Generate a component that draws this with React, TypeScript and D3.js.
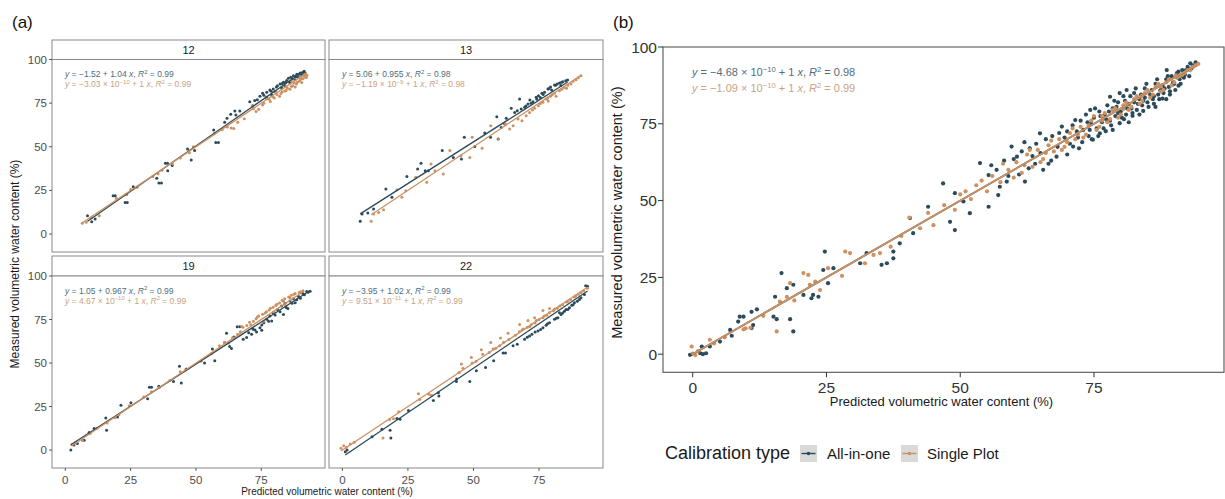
import React from 'react';
import * as d3 from 'd3';

type P = [number, number];

// ---------------- DATA ----------------
const facetIds = ['12', '13', '19', '22'];
const seriesNames = ['All-in-one', 'Single Plot'];
const yTicks = [0, 25, 50, 75, 100];
const xTicks = [0, 25, 50, 75];

const f12Blue: P[] = [
  [8.5, 10.5], [10.1, 7.1], [11.4, 8.6], [18.3, 22], [19.1, 22], [22.9, 18.1], [23.7, 18.1], [26, 27.1],
  [35, 31.9], [35.8, 29.2], [36.8, 29.2], [38.3, 40.5], [39.1, 40.5], [39.2, 36.3], [40.9, 39.2],
  [46.8, 48.7], [48.2, 42.4], [49.5, 47.8], [56.8, 59.6], [57.6, 52.5], [58.6, 52.5], [61, 64],
  [61.9, 66.3], [63.3, 68.6], [64.9, 70.5], [65.3, 68.2], [66.8, 70.5], [70.6, 75.8], [71.7, 73.5],
  [73.5, 77], [74.5, 78.9], [75.5, 80.6], [77.1, 81.2], [78.3, 82.5], [79.6, 83.1], [81.2, 85],
  [82.2, 86], [83.5, 86.9], [84.7, 87.9], [85.4, 89.2], [86.3, 89.8], [87.3, 90.7], [88.6, 91.5],
  [89.9, 92.3], [90.9, 92.6], [84, 85], [86, 86.5], [87.9, 88.4], [89.2, 89.8], [90.5, 91.1],
  [79, 79.7], [77, 78.4], [80.3, 81.7], [82.8, 83.6], [85.8, 87.2], [88.2, 90.1], [91.4, 93.2],
  [72.5, 76.5], [76, 79.5], [78.8, 81.8], [80.8, 84.2], [83, 86.2], [84.2, 86.8], [86.8, 88.9],
  [88.1, 90.2], [89.5, 91.6], [91.6, 92.5]
];
const f12Orange: P[] = [
  [6.5, 6.2], [8, 6.8], [10, 9.3], [13, 10.5], [19.5, 20.5], [23.5, 22.5], [25, 25.5], [27.5, 26.8],
  [33.5, 33], [35.5, 34.5], [37, 36.5], [41, 40.2], [44, 43.5], [47.5, 46.5], [49, 50], [57, 57.5],
  [60, 59.8], [62, 61.3], [63.5, 60.8], [64.5, 60.5], [66, 64], [68.5, 66], [72, 71.8], [74, 71.5],
  [75.5, 74], [77, 77.5], [78.5, 76], [79.5, 78.5], [81, 80], [82, 79], [83, 81.5], [84, 82],
  [85, 83.5], [86, 83], [87, 85], [87.5, 86.5], [88.5, 86], [89.5, 87.5], [90, 88.5], [91, 89],
  [91.5, 90.5], [92, 91.5], [86.5, 87.8], [84.5, 84.6], [80.5, 81.5], [73, 70.2], [71.5, 73],
  [88, 84.3], [90.5, 86.8], [92.3, 89.7], [76, 75], [78, 77.2], [80, 78], [82.5, 80.5], [84.5, 82.3],
  [86.5, 84.5], [88.7, 87], [90.3, 89.2], [91.8, 90], [92.5, 91]
];

const f13Blue: P[] = [
  [6.8, 7.3], [7.5, 11.5], [9.7, 12], [11.9, 14.3], [16.6, 25.8], [18.9, 21], [24.6, 33], [28.7, 37.2],
  [30, 40.5], [31.6, 36.3], [32.8, 36.3], [38.1, 47.8], [42.3, 43.9], [45.4, 43], [46.5, 55.4],
  [50.5, 50.2], [54.3, 57.9], [56.5, 55.4], [58.9, 67.2], [59.4, 54.4], [60.6, 61.1], [61.9, 63],
  [62.5, 66.3], [64.4, 72], [65.7, 69.7], [66.7, 70.7], [68.2, 71.6], [69.5, 72.6], [70.8, 74.5],
  [72.7, 75.8], [73.9, 78.3], [74.8, 79.3], [76.1, 80.6], [77.1, 81.2], [78.4, 83.1], [79.4, 84.2],
  [80.9, 85.4], [81.9, 86], [82.8, 86.5], [84.1, 87.3], [85.9, 88.3], [67.6, 77.4], [71.5, 76.8],
  [75.5, 78.2], [79.8, 82.5], [83.3, 85.1], [70, 73.4], [72, 75], [74.2, 77.2], [76.6, 80],
  [78.8, 83.4], [81.3, 85.2], [83.6, 86.9], [85.2, 87.8]
];
const f13Orange: P[] = [
  [11, 7.3], [11.9, 11.5], [13.8, 12.4], [15.7, 13.9], [20.8, 25.4], [22.7, 21], [24.2, 24.8],
  [28, 32.5], [32.2, 29.6], [33.8, 40.1], [35.3, 36.3], [38.5, 34.4], [41, 47.8], [45.2, 44.9],
  [48.6, 43.9], [49.5, 55.4], [53.3, 49.1], [56.6, 62.1], [59.6, 54.4], [62.2, 63], [63.8, 60.2],
  [65.1, 62.1], [67, 65.9], [68.5, 64.9], [70.1, 67.8], [71.4, 69.7], [73.3, 72], [74.8, 73.5],
  [76.5, 75.5], [77.7, 77.4], [79.4, 78.9], [80.9, 80.6], [82.8, 82.1], [84.7, 84], [87.2, 86],
  [89.1, 88.4], [91, 90.7], [81.5, 79], [85.5, 83.5], [78.5, 76.2], [72.5, 71], [75.5, 74.8],
  [78.3, 77.9], [80, 79.8], [83.7, 83], [86, 85.3], [88, 87.5], [90, 89.6]
];

const f19Blue: P[] = [
  [2.1, 0], [3.3, 2.9], [4.6, 3.8], [7.2, 5.7], [9.1, 10.1], [11, 12.4], [15.5, 18.4], [15.8, 11.4],
  [20, 19], [21.3, 25.7], [25.1, 27.2], [31.5, 29.5], [32.2, 36.1], [33, 36.1], [35.8, 36.7],
  [41.4, 39.4], [43.7, 48.1], [44.4, 38.6], [46.3, 46.6], [53.3, 50], [56.3, 58], [57.2, 51.3],
  [61, 61.8], [61.7, 67.1], [62.9, 59.5], [63.6, 58.3], [64.5, 65], [65.8, 70.9], [66.8, 70.9],
  [68.1, 63.7], [69.4, 64.6], [71.3, 66.5], [71.9, 69.4], [73.2, 67.9], [74.5, 70.3], [76, 73.2],
  [77.1, 75.1], [78.3, 77], [79.6, 78.9], [81.2, 80.8], [82.8, 82.7], [84.1, 84.2], [86, 85.6],
  [87.3, 86.9], [89.2, 88.4], [90.9, 89.9], [92.4, 91.1], [93.7, 91.3], [79, 74.1], [83.5, 77.9],
  [85.2, 81.3], [88, 84.6], [90, 87.2], [75.2, 68.8], [70.2, 67.4], [72.6, 69], [75.2, 71.9],
  [77.8, 74], [80.3, 77.6], [82.2, 79.5], [84.6, 81.9], [86.8, 84.3], [88.6, 86.3], [91.5, 89.2],
  [92.9, 90.6]
];
const f19Orange: P[] = [
  [2.5, 3], [4, 4.5], [6.5, 5.5], [9.5, 9.5], [12, 12.5], [16, 15.5], [19, 18.5], [20.5, 20.3],
  [24.5, 25.5], [30, 30.5], [33, 33.5], [36, 36], [40, 40], [44, 45], [46, 46], [52, 51],
  [56, 55.5], [59, 60], [61, 62], [62.5, 61.5], [64, 64.5], [66, 66.5], [67, 68], [68, 70.5],
  [69.5, 71.5], [71, 72], [72, 74], [73, 75.5], [74, 77], [75.5, 78], [77, 79.5], [78, 80.5],
  [79.5, 82], [80.5, 83], [82, 84.5], [83, 86], [84, 87], [85.5, 88], [86.5, 89], [88, 90],
  [89.5, 90.5], [91, 91.5], [76, 74], [80, 79], [84, 83.5], [67.5, 71], [70.5, 73.5], [73.5, 76.5],
  [76.5, 78.8], [78.5, 81.5], [81, 83.8], [83.5, 85.5], [86, 87.5], [87.5, 89.5], [90, 91]
];

const f22Blue: P[] = [
  [1.1, -1], [1.8, 0], [11.3, 7.6], [15.1, 12], [18.2, 11.4], [18.5, 7], [20.8, 18.1], [22, 17.7],
  [25.2, 22.8], [34.7, 28.5], [36.6, 32.9], [36.8, 31], [43.5, 39.4], [43.6, 40.8], [48.6, 39.4],
  [51.1, 45.6], [54.6, 47.5], [57.7, 51.3], [61.3, 55.7], [62.2, 55.7], [65.1, 59.9], [66.7, 60.8],
  [69.5, 63.7], [71.4, 65.6], [72.3, 66.5], [74.6, 68.4], [76.5, 70.3], [77.7, 71.7], [79, 73.2],
  [80.9, 75.1], [82.2, 76], [83.4, 77.9], [84.7, 79.8], [86.6, 81.7], [88.5, 84.6], [90.4, 86.5],
  [92.3, 89.4], [93.5, 94.1], [92.8, 94.4], [82.8, 78.9], [85.3, 80.8], [87.5, 83.2], [89.6, 85.5],
  [70.5, 64.8], [73.5, 67.8], [75.6, 69.2], [78.2, 72.5], [81.6, 75.8], [84, 78.8], [86, 80.8],
  [88, 83.5], [91, 87.5]
];
const f22Orange: P[] = [
  [-0.5, 1], [0.5, 2.5], [1.5, 1.5], [3, 3.5], [4.5, 4.5], [15.5, 7], [18, 17.5], [19.5, 18],
  [21.5, 22], [29.5, 29], [29, 32.3], [33, 32], [34, 31.5], [44.5, 44.5], [45.4, 49.4], [46, 47],
  [49.2, 53.2], [49.5, 50], [51, 51], [53, 57.6], [53.5, 55], [56, 56], [56.6, 61.8], [57.5, 58],
  [58.5, 58.5], [60, 60], [60.3, 64.4], [61.5, 62], [63.2, 67.1], [63.5, 63.5], [66, 66],
  [67.5, 68], [67.6, 72.2], [69, 69.5], [70.5, 70.5], [70.8, 74.5], [72, 72], [73.3, 76],
  [73.5, 73], [75, 75], [76.5, 76], [76.5, 80.2], [78, 77.5], [79, 79], [79, 81.4], [80.5, 80],
  [82, 81.5], [84, 83.5], [85.5, 85], [87, 86.5], [88.5, 88], [90, 89.5], [92, 91.5], [93.5, 93],
  [68.5, 69], [71.5, 71], [74, 74.5], [77, 77], [81, 81], [83, 82.8], [86, 85.5], [89, 88.7], [91, 90.5]
];

const bBlue: P[] = [
  [-0.5, -0.2], [1.4, 0.3], [1.7, 2.5], [1.9, 0], [2.5, 0.3], [3.2, 2.5], [5.1, 4.1], [7, 7.9],
  [7.3, 6], [8.5, 10.6], [8.8, 12.2], [9.5, 12.2], [11, 8.5], [11.3, 9.5], [11, 13.8], [12, 14.6],
  [15.4, 18.7], [15.1, 12.2], [15.7, 11.4], [16.6, 26.4], [17.6, 21.5], [18.8, 22.6], [18.2, 11.4],
  [18.8, 7.4], [20.7, 19.3], [22.2, 18.2], [22.5, 19.3], [23.5, 18.7], [24.7, 33.4], [24.4, 27.4],
  [25.3, 23.1], [26.3, 28], [31.3, 29.6], [32.5, 32.9], [35.3, 29.1], [37.5, 31.2], [37.5, 33.4],
  [36.3, 29.6], [38.7, 36.1], [40.6, 44.3], [41.2, 39.4], [44, 48], [46.8, 55.6], [49, 52.4],
  [49, 40.4], [48.1, 43.1], [50.6, 49.7], [51.8, 45.9], [53.7, 62.2], [55.3, 58.3], [55.3, 48],
  [56.8, 60], [57.4, 54.5], [57.1, 51.8], [58.7, 56.2], [59.6, 67.6], [60.6, 64.3], [62.1, 56.2],
  [64.9, 71.9], [65.5, 60], [68, 64.3], [69, 74.1], [71.1, 67.6], [71.5, 76.2], [74.3, 79.5],
  [76.1, 71.9], [78, 83.8], [81.1, 86], [88.6, 92.5], [93, 94.7], [70, 72.5], [71, 74.5],
  [72, 70.5], [72.5, 76], [73, 73], [73.5, 78], [74, 71], [74.5, 75], [75, 77], [75.5, 73.5],
  [76, 79], [76.5, 75.5], [77, 78], [77.5, 81], [78, 76], [78.5, 80], [79, 77.5], [79.5, 82],
  [80, 79], [80.5, 84], [81, 78], [81.5, 81.5], [82, 80], [82.5, 85], [83, 79.5], [83.5, 83],
  [84, 81], [84.5, 86.5], [85, 82], [85.5, 84.5], [86, 83], [86.5, 88], [87, 84.5], [87.5, 86],
  [88, 85], [88.5, 89.5], [89, 87], [89.5, 90.5], [90, 88], [90.5, 91.5], [91, 89.5], [91.5, 92.5],
  [92, 91], [92.5, 93.5], [93.5, 94], [62, 69], [63, 67], [64, 62], [66, 70], [67, 63], [68.5, 72],
  [70, 65], [60, 63.5], [61, 58.5], [63.5, 64.5], [84.2, 79.2], [86.2, 81.5], [87.8, 83.2],
  [89.2, 85.6], [90.8, 87.4], [79.8, 75.2], [82.2, 77.6], [74.8, 69.8], [77.2, 72.6],
  [55.8, 61.5], [58.2, 63], [59, 58], [61.5, 66], [62.8, 60.5], [64.2, 68.5], [65, 65.5], [66.5, 62],
  [67.2, 71], [68.2, 67.5], [69.5, 70.5], [70.5, 68.5], [71.8, 72.5], [72.8, 69], [73.8, 75.5],
  [74.2, 73], [75.2, 80], [76.2, 77.5], [76.8, 73.5], [77.8, 79], [78.2, 74.5], [78.8, 82.5],
  [79.2, 80.5], [79.8, 85], [80.2, 77], [80.8, 82.5], [81.2, 80], [81.8, 84], [82.2, 78.5],
  [82.8, 86.5], [83.2, 81.5], [83.8, 84.5], [84.2, 82.5], [84.8, 88], [85.2, 80.5], [85.8, 86],
  [86.2, 84], [86.8, 89.5], [87.2, 83], [87.8, 87.5], [88.2, 86.5], [88.8, 90.5], [89.2, 84.5],
  [89.8, 88.5], [90.2, 86], [90.8, 92], [91.2, 88], [91.8, 90], [92.2, 92.5], [92.8, 90.5],
  [93.2, 93], [94, 95], [75.8, 71], [78.5, 73], [81.5, 75.5], [83.5, 78], [86.5, 80.5], [88.5, 83],
  [72.2, 67], [74.6, 70], [80.6, 76.5], [77.3, 76.4], [79.5, 78.5], [82.5, 82], [84.5, 83.5],
  [87.4, 85.8], [89.7, 87.8], [91.4, 90.6]
];
const bOrange: P[] = [
  [-0.2, 2.5], [0, 0.2], [0.5, -0.3], [1, 1], [3.2, 4.7], [4, 3.5], [6, 5.5], [9.5, 8.1],
  [9.9, 8.4], [10.8, 8.6], [13.2, 12.5], [15.7, 7.4], [16.3, 17.1], [17.6, 18.7], [18.2, 23.1],
  [19, 17.5], [20.7, 26.4], [21.6, 25.8], [21.9, 22.6], [22.9, 23.6], [23.8, 20.9], [25.3, 28],
  [27.9, 25.5], [28.5, 33.4], [29.4, 32.9], [32.2, 29.6], [33.8, 32.3], [35, 32.9], [37, 35],
  [39, 38.5], [40.5, 44.5], [42.5, 41], [44, 46], [45, 42], [47, 48.5], [49, 47], [50, 52],
  [52, 50.5], [53, 55], [55, 53], [56, 58], [57.5, 56], [59, 60], [60.5, 62.5], [61.5, 59],
  [62.5, 65], [63.5, 61], [64.5, 66.5], [65.5, 63.5], [66.5, 68], [67.5, 66], [68.5, 70],
  [69.5, 67.5], [70.5, 72], [71.5, 70], [72.5, 74], [73.5, 71.5], [74.5, 76], [75.5, 73],
  [76.5, 77.5], [77.5, 75.5], [78.5, 79.5], [79.5, 77], [80.5, 81], [81.5, 79.5], [82.5, 83],
  [83.5, 81.5], [84.5, 85], [85.5, 83.5], [86.5, 87], [87.5, 85.5], [88.5, 88.5], [89.5, 87.5],
  [90.5, 90], [91.5, 91], [92.5, 92.5], [93.5, 93.5], [94.5, 94.5],
  [58, 62], [60, 57.5], [63, 66.5], [65, 62.5], [67, 69.5], [69, 66.5], [71, 73.5], [73, 70.5],
  [74, 74.5], [75, 77.5], [76, 74], [77, 78.5], [78, 76.5], [79, 80], [80, 78], [81, 82],
  [82, 80.5], [83, 84], [84, 82.5], [85, 86], [86, 84.5], [87, 88], [88, 86], [89, 89.5],
  [90, 88.5], [91, 90.5], [92, 91.5], [93, 92.5], [94, 94], [70, 69], [72, 71.5], [76.5, 76],
  [80.5, 79.8], [84, 84.2], [87.5, 87.2], [90.3, 90.8], [66, 65.5], [62, 61.5], [54, 56.5], [51, 53]
];

const facetBlue = [f12Blue, f13Blue, f19Blue, f22Blue];
const facetOrange = [f12Orange, f13Orange, f19Orange, f22Orange];
const facetFitA = [[-1.52, -3.03e-10], [5.06, -1.19e-9], [1.05, 4.67e-10], [-3.95, 9.51e-11]];
const facetFitB = [[1.04, 1], [0.955, 1], [0.967, 1], [1.02, 1]];
// [intercept, exponent, slope, R2]
const facetEqBlue: (string | null)[][] = [
  ['−1.52', null, '1.04', '0.99'], ['5.06', null, '0.955', '0.98'],
  ['1.05', null, '0.967', '0.99'], ['−3.95', null, '1.02', '0.99']
];
const facetEqOrange: (string | null)[][] = [
  ['−3.03', '−10', '1', '0.99'], ['−1.19', '−9', '1', '0.98'],
  ['4.67', '−10', '1', '0.99'], ['9.51', '−11', '1', '0.99']
];
const bFitA = [-4.68e-10, -1.09e-10];
const bFitB = [1, 1];
const bEqBlue: (string | null)[] = ['−4.68', '−10', '1', '0.98'];
const bEqOrange: (string | null)[] = ['−1.09', '−10', '1', '0.99'];

// ---------------- STYLE ----------------
const FONT = "'Liberation Sans', Arial, Helvetica, sans-serif";
const BLUE = '#2b4b5a';
const ORANGE = '#cd9162';
const BLUE_TXT = '#4f6d7b';
const ORANGE_TXT = '#c9a37f';
const colX: [number, number][] = [[52, 325], [329, 603]];
const rowY = [
  { strip: [40, 59.5], panel: [59.5, 252] },
  { strip: [256, 276], panel: [276, 468] }
];

type Part = { t: string; i?: boolean; sup?: boolean };
function eqParts(e: (string | null)[]): Part[] {
  const [a, ex, b, r2] = e;
  const parts: Part[] = [{ t: 'y', i: true }, { t: ' = ' + a }];
  if (ex) { parts.push({ t: ' × 10' }); parts.push({ t: ex, sup: true }); }
  parts.push({ t: ' + ' + b + ' ' });
  parts.push({ t: 'x', i: true });
  parts.push({ t: ', ' });
  parts.push({ t: 'R', i: true });
  parts.push({ t: '2', sup: true });
  parts.push({ t: ' = ' + r2 });
  return parts;
}

function Eq({ x, y, e, fill, size }: { x: number; y: number; e: (string | null)[]; fill: string; size: number }) {
  const parts = eqParts(e);
  let raised = false;
  return (
    <text x={x} y={y} fill={fill} fontSize={size} fontFamily={FONT}>
      {parts.map((p, k) => {
        let dy = 0;
        if (p.sup && !raised) { dy = -size * 0.4; raised = true; }
        else if (!p.sup && raised) { dy = size * 0.4; raised = false; }
        return (
          <tspan key={k} dy={dy || undefined} fontStyle={p.i ? 'italic' : undefined}
            fontSize={p.sup ? size * 0.7 : undefined}>{p.t}</tspan>
        );
      })}
    </text>
  );
}

function fitLine(data: P[], a: number, b: number, xs: d3.ScaleLinear<number, number>, ys: d3.ScaleLinear<number, number>) {
  const ext = d3.extent(data, (d) => d[0]) as [number, number];
  const pts: P[] = [[ext[0], a + b * ext[0]], [ext[1], a + b * ext[1]]];
  return d3.line<P>().x((d) => xs(d[0])).y((d) => ys(d[1]))(pts) || '';
}

function Facet({ idx }: { idx: number }) {
  const col = idx % 2, row = Math.floor(idx / 2);
  const [x0, x1] = colX[col];
  const r = rowY[row];
  const xs = d3.scaleLinear().domain([-5.1, 99.4]).range([x0, x1]);
  const ys = d3.scaleLinear().domain([-10.3, 100]).range([r.panel[1], r.panel[0]]);
  const blue = facetBlue[idx], orange = facetOrange[idx];
  return (
    <g>
      <rect x={x0} y={r.strip[0]} width={x1 - x0} height={r.strip[1] - r.strip[0]} fill="#ffffff" stroke="#8a8a8a" strokeWidth={1} />
      <text x={(x0 + x1) / 2} y={(r.strip[0] + r.strip[1]) / 2 + 4} textAnchor="middle" fontSize={11} fontFamily={FONT} fill="#1a1a1a">{facetIds[idx]}</text>
      <rect x={x0} y={r.panel[0]} width={x1 - x0} height={r.panel[1] - r.panel[0]} fill="#ffffff" stroke="#8a8a8a" strokeWidth={1} />
      {blue.map((d, k) => <circle key={'b' + k} cx={xs(d[0])} cy={ys(d[1])} r={1.5} fill={BLUE} />)}
      {orange.map((d, k) => <circle key={'o' + k} cx={xs(d[0])} cy={ys(d[1])} r={1.5} fill={ORANGE} />)}
      <path d={fitLine(blue, facetFitA[idx][0], facetFitB[idx][0], xs, ys)} stroke={BLUE} strokeWidth={1.3} fill="none" />
      <path d={fitLine(orange, facetFitA[idx][1], facetFitB[idx][1], xs, ys)} stroke={ORANGE} strokeWidth={1.3} fill="none" />
      <Eq x={x0 + 13} y={r.panel[0] + 17.5} e={facetEqBlue[idx]} fill={BLUE_TXT} size={8.5} />
      <Eq x={x0 + 13} y={r.panel[0] + 27.5} e={facetEqOrange[idx]} fill={ORANGE_TXT} size={8.5} />
      {col === 0 && yTicks.map((t) => (
        <g key={'y' + t}>
          <line x1={x0 - 3} x2={x0} y1={ys(t)} y2={ys(t)} stroke="#333" strokeWidth={0.8} />
          <text x={x0 - 5} y={ys(t) + 4} textAnchor="end" fontSize={11.5} fontFamily={FONT} fill="#4d4d4d">{t}</text>
        </g>
      ))}
      {row === 1 && xTicks.map((t) => (
        <g key={'x' + t}>
          <line x1={xs(t)} x2={xs(t)} y1={r.panel[1]} y2={r.panel[1] + 3} stroke="#333" strokeWidth={0.8} />
          <text x={xs(t)} y={r.panel[1] + 16} textAnchor="middle" fontSize={11.5} fontFamily={FONT} fill="#4d4d4d">{t}</text>
        </g>
      ))}
    </g>
  );
}

function PanelB() {
  const L = 663, R = 1224, T = 47, B = 372.3;
  const xs = d3.scaleLinear().domain([-5.55, 99.3]).range([L, R]);
  const ys = d3.scaleLinear().domain([-5.9, 100]).range([B, T]);
  return (
    <g>
      <rect x={L} y={T} width={R - L} height={B - T} fill="#fff" stroke="#555" strokeWidth={1.1} />
      {bBlue.map((d, k) => <circle key={'b' + k} cx={xs(d[0])} cy={ys(d[1])} r={2.1} fill={BLUE} />)}
      {bOrange.map((d, k) => <circle key={'o' + k} cx={xs(d[0])} cy={ys(d[1])} r={2.1} fill={ORANGE} />)}
      <path d={fitLine(bBlue, bFitA[0], bFitB[0], xs, ys)} stroke={BLUE} strokeWidth={1.8} fill="none" />
      <path d={fitLine(bOrange, bFitA[1], bFitB[1], xs, ys)} stroke={ORANGE} strokeWidth={1.8} fill="none" />
      <Eq x={692} y={76} e={bEqBlue} fill={BLUE_TXT} size={11} />
      <Eq x={692} y={92} e={bEqOrange} fill={ORANGE_TXT} size={11} />
      {yTicks.map((t) => (
        <g key={'y' + t}>
          <line x1={L - 5} x2={L} y1={ys(t)} y2={ys(t)} stroke="#333" strokeWidth={1} />
          <text x={L - 6} y={ys(t) + 5.5} textAnchor="end" fontSize={15.5} fontFamily={FONT} fill="#333">{t}</text>
        </g>
      ))}
      {xTicks.map((t) => (
        <g key={'x' + t}>
          <line x1={xs(t)} x2={xs(t)} y1={B} y2={B + 5} stroke="#333" strokeWidth={1} />
          <text x={xs(t)} y={B + 21} textAnchor="middle" fontSize={15.5} fontFamily={FONT} fill="#333">{t}</text>
        </g>
      ))}
      <text x={(L + R) / 2 - 2} y={406} textAnchor="middle" fontSize={13} fontFamily={FONT} fill="#1a1a1a">Predicted volumetric water content (%)</text>
      <text transform={`translate(622,${(T + B) / 2 + 3}) rotate(-90)`} textAnchor="middle" fontSize={14.5} fontFamily={FONT} fill="#1a1a1a">Measured volumetric water content (%)</text>
    </g>
  );
}

function Legend() {
  const keys = [
    { x: 800, color: BLUE, label: seriesNames[0], tx: 827 },
    { x: 901, color: ORANGE, label: seriesNames[1], tx: 927 }
  ];
  return (
    <g>
      <text x={665} y={459} fontSize={18} fontFamily={FONT} fill="#1a1a1a">Calibration type</text>
      {keys.map((k) => (
        <g key={k.label}>
          <rect x={k.x} y={445} width={17} height={17} fill="#d9d9d9" />
          <line x1={k.x + 1.5} x2={k.x + 15.5} y1={453.5} y2={453.5} stroke={k.color} strokeWidth={1.4} />
          <circle cx={k.x + 8.5} cy={453.5} r={1.8} fill={k.color} />
          <text x={k.tx} y={459} fontSize={15} fontFamily={FONT} fill="#1a1a1a">{k.label}</text>
        </g>
      ))}
    </g>
  );
}

export default function App() {
  return (
    <svg width={1225} height={499} style={{ position: 'absolute', left: 0, top: 0, background: '#fff' }}>
      <rect x={0} y={0} width={1225} height={499} fill="#fff" />
      <text x={12} y={28} fontSize={17} fontFamily={FONT} fill="#111">(a)</text>
      <text x={613} y={28} fontSize={17} fontFamily={FONT} fill="#111">(b)</text>
      {facetIds.map((_, i) => <Facet key={i} idx={i} />)}
      <text transform={`translate(19,264) rotate(-90)`} textAnchor="middle" fontSize={12} fontFamily={FONT} fill="#1a1a1a">Measured volumetric water content (%)</text>
      <text x={327} y={495} textAnchor="middle" fontSize={10} fontFamily={FONT} fill="#1a1a1a">Predicted volumetric water content (%)</text>
      <PanelB />
      <Legend />
    </svg>
  );
}
